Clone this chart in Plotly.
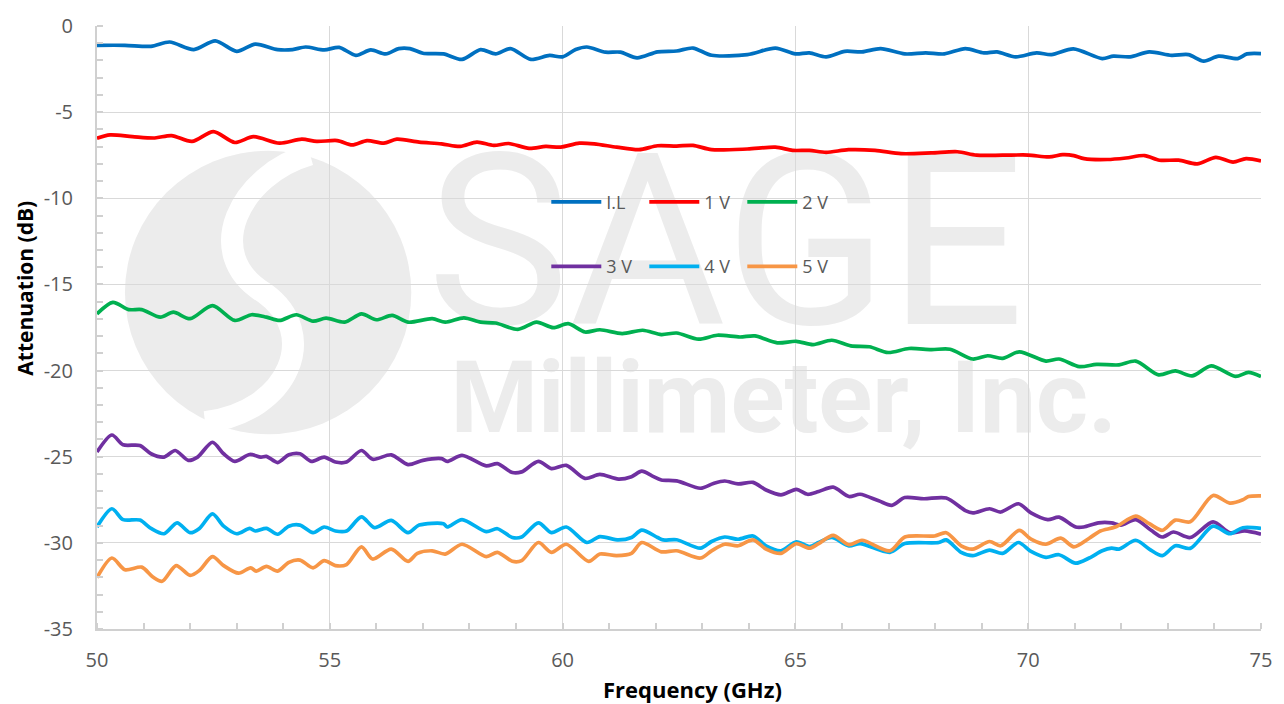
import plotly.graph_objects as go

# ---------------- data ----------------
il_f = [50, 50.6, 51.16, 51.56, 52.08, 52.54, 53.0, 53.4, 53.88, 54.2, 54.48, 54.88, 55.2, 55.56, 55.88,
        56.2, 56.48, 56.72, 57.0, 57.44, 57.84, 58.24, 58.56, 58.88, 59.32, 59.72, 60.0, 60.28, 60.52,
        60.92, 61.24, 61.6, 62.04, 62.45, 62.8, 63.2, 63.97, 64.57, 65.0, 65.3, 65.66, 66.06, 66.43,
        66.83, 67.35, 67.8, 68.2, 68.65, 69.05, 69.33, 69.73, 70.18, 70.5, 70.97, 71.59, 71.83, 72.19,
        72.6, 73.08, 73.44, 73.77, 74.09, 74.5, 74.7, 75]
il_v = [-1.12, -1.12, -1.18, -0.93, -1.37, -0.86, -1.47, -1.05, -1.37, -1.37, -1.22, -1.39, -1.24, -1.70, -1.39,
        -1.62, -1.31, -1.31, -1.58, -1.62, -1.94, -1.37, -1.62, -1.31, -1.94, -1.71, -1.79, -1.37, -1.22,
        -1.52, -1.52, -1.85, -1.50, -1.45, -1.28, -1.70, -1.66, -1.28, -1.62, -1.56, -1.79, -1.47, -1.50,
        -1.31, -1.62, -1.56, -1.62, -1.31, -1.56, -1.50, -1.79, -1.56, -1.66, -1.33, -1.89, -1.75, -1.79,
        -1.50, -1.70, -1.66, -2.04, -1.75, -1.89, -1.62, -1.60]

v1_f = [50, 50.28, 50.76, 51.24, 51.6, 52.04, 52.5, 52.96, 53.36, 53.92, 54.4, 54.72, 55.16, 55.48, 55.8,
        56.16, 56.44, 56.92, 57.4, 57.8, 58.16, 58.52, 58.84, 59.28, 59.64, 59.96, 60.36, 60.68, 61.16,
        61.64, 62.04, 62.45, 62.8, 63.2, 63.97, 64.57, 64.94, 65.3, 65.66, 66.14, 66.71, 67.27, 67.92,
        68.48, 68.89, 69.45, 70.0, 70.45, 70.74, 70.98, 71.2, 71.7, 72.1, 72.5, 72.82, 73.23, 73.63,
        74.03, 74.4, 74.68, 75]
v1_v = [-6.51, -6.32, -6.42, -6.50, -6.36, -6.70, -6.13, -6.76, -6.42, -6.80, -6.57, -6.70, -6.65, -6.90, -6.65,
        -6.80, -6.57, -6.74, -6.84, -6.99, -6.74, -6.93, -6.82, -7.10, -6.99, -7.03, -6.80, -6.84, -7.03,
        -7.18, -6.95, -6.97, -6.93, -7.18, -7.14, -7.03, -7.22, -7.22, -7.33, -7.18, -7.22, -7.41, -7.37,
        -7.30, -7.50, -7.50, -7.49, -7.60, -7.47, -7.52, -7.70, -7.75, -7.66, -7.52, -7.79, -7.79, -8.0,
        -7.62, -7.90, -7.70, -7.83]

v2_f = [50, 50.34, 50.68, 50.96, 51.36, 51.64, 52.0, 52.48, 52.96, 53.32, 53.64, 53.92, 54.28, 54.64, 54.92,
        55.32, 55.68, 56.0, 56.34, 56.68, 57.2, 57.48, 57.88, 58.24, 58.56, 59.04, 59.44, 59.8, 60.12,
        60.48, 60.8, 61.28, 61.72, 62.12, 62.45, 62.92, 63.32, 63.81, 64.13, 64.61, 65.02, 65.38, 65.78,
        66.19, 66.59, 66.99, 67.44, 67.92, 68.32, 68.81, 69.13, 69.45, 69.81, 70.38, 70.66, 71.1, 71.47,
        71.95, 72.31, 72.8, 73.16, 73.52, 73.93, 74.45, 74.73, 75]
v2_v = [-16.71, -16.04, -16.46, -16.46, -16.90, -16.61, -16.99, -16.23, -17.09, -16.76, -16.90, -17.09, -16.76, -17.13, -16.96,
        -17.19, -16.71, -17.05, -16.80, -17.19, -16.99, -17.19, -16.94, -17.19, -17.24, -17.61, -17.19, -17.51, -17.28,
        -17.76, -17.63, -17.85, -17.66, -17.91, -17.82, -18.18, -17.95, -18.05, -17.99, -18.39, -18.30, -18.49, -18.24,
        -18.57, -18.62, -18.95, -18.72, -18.78, -18.76, -19.33, -19.14, -19.29, -18.91, -19.45, -19.33, -19.77, -19.64,
        -19.67, -19.45, -20.25, -20.02, -20.31, -19.73, -20.34, -20.11, -20.34]

v3_f = [50, 50.32, 50.56, 50.92, 51.16, 51.44, 51.68, 51.96, 52.16, 52.48, 52.72, 52.96, 53.28, 53.52, 53.64,
        53.88, 54.12, 54.36, 54.6, 54.88, 55.12, 55.36, 55.68, 55.92, 56.32, 56.68, 57.0, 57.4, 57.52,
        57.84, 58.36, 58.6, 58.92, 59.12, 59.48, 59.76, 60.08, 60.48, 60.8, 61.2, 61.48, 61.7, 61.92,
        62.12, 62.45, 62.96, 63.24, 63.48, 63.77, 64.09, 64.37, 64.69, 65.02, 65.26, 65.5, 65.81, 66.15,
        66.39, 66.79, 67.07, 67.35, 67.76, 68.24, 68.65, 68.81, 69.17, 69.41, 69.79, 70.06, 70.42, 70.66,
        71.02, 71.19, 71.51, 71.79, 71.99, 72.31, 72.64, 72.88, 73.12, 73.48, 73.97, 74.33, 74.65, 75]
v3_v = [-24.73, -23.74, -24.31, -24.35, -24.83, -25.02, -24.64, -25.21, -25.02, -24.16, -24.83, -25.27, -24.87, -25.02, -24.98,
        -25.34, -24.89, -24.83, -25.27, -25.02, -25.31, -25.31, -24.64, -25.15, -24.89, -25.46, -25.21, -25.11, -25.27,
        -24.92, -25.53, -25.40, -25.92, -25.88, -25.27, -25.69, -25.50, -26.26, -26.03, -26.30, -26.16, -25.84, -26.11,
        -26.35, -26.40, -26.83, -26.55, -26.41, -26.58, -26.49, -26.93, -27.21, -26.89, -27.18, -27.02, -26.77, -27.31,
        -27.18, -27.56, -27.82, -27.37, -27.44, -27.40, -28.13, -28.26, -28.02, -28.21, -27.73, -28.26, -28.65, -28.51,
        -29.08, -29.08, -28.84, -28.84, -28.97, -28.65, -29.27, -29.66, -29.37, -29.69, -28.78, -29.41, -29.31, -29.50]

v4_f = [50, 50.32, 50.56, 50.92, 51.16, 51.44, 51.72, 52.0, 52.2, 52.48, 52.72, 53.0, 53.28, 53.4, 53.64,
        53.88, 54.12, 54.36, 54.64, 54.88, 55.12, 55.36, 55.68, 55.96, 56.32, 56.68, 56.92, 57.44, 57.52,
        57.84, 58.36, 58.6, 58.92, 59.12, 59.48, 59.76, 60.08, 60.52, 60.8, 61.2, 61.48, 61.7, 62.04,
        62.16, 62.45, 62.96, 63.2, 63.48, 63.77, 64.09, 64.37, 64.69, 65.02, 65.3, 65.5, 65.78, 66.15,
        66.39, 67.03, 67.35, 68.08, 68.24, 68.56, 68.81, 69.17, 69.45, 69.79, 70.06, 70.38, 70.66, 71.02,
        71.31, 71.59, 71.79, 71.95, 72.31, 72.6, 72.88, 73.16, 73.48, 73.97, 74.33, 74.61, 75]
v4_v = [-29.08, -28.02, -28.65, -28.68, -29.16, -29.47, -28.84, -29.41, -29.16, -28.32, -29.03, -29.47, -29.16, -29.31, -29.16,
        -29.50, -29.03, -28.97, -29.41, -29.08, -29.31, -29.31, -28.49, -29.12, -28.70, -29.41, -28.97, -28.89, -29.08,
        -28.65, -29.35, -29.18, -29.69, -29.66, -28.84, -29.41, -29.08, -29.98, -29.64, -29.83, -29.69, -29.26, -29.69,
        -29.83, -29.82, -30.31, -29.92, -29.66, -29.79, -29.60, -30.17, -30.46, -29.94, -30.21, -29.98, -29.69, -30.17,
        -30.04, -30.55, -30.04, -29.98, -29.83, -30.55, -30.74, -30.42, -30.61, -29.98, -30.50, -30.84, -30.69, -31.18,
        -30.88, -30.46, -30.31, -30.36, -29.85, -30.36, -30.74, -30.17, -30.32, -29.03, -29.47, -29.12, -29.16]

v5_f = [50, 50.32, 50.6, 50.96, 51.2, 51.4, 51.7, 52.0, 52.2, 52.48, 52.72, 53.04, 53.3, 53.42, 53.64,
        53.88, 54.12, 54.36, 54.64, 54.88, 55.12, 55.36, 55.68, 55.92, 56.32, 56.68, 56.88, 57.2, 57.48,
        57.84, 58.36, 58.6, 58.92, 59.12, 59.48, 59.76, 60.08, 60.56, 60.8, 61.16, 61.48, 61.7, 62.12,
        62.45, 62.96, 63.2, 63.48, 63.77, 64.09, 64.37, 64.69, 65.02, 65.3, 65.5, 65.81, 66.15, 66.43,
        67.03, 67.35, 67.99, 68.24, 68.56, 68.81, 69.17, 69.41, 69.81, 70.06, 70.38, 70.7, 70.98, 71.31,
        71.55, 71.87, 72.31, 72.6, 72.88, 73.16, 73.48, 73.97, 74.33, 74.61, 74.73, 75]
v5_v = [-32.02, -30.88, -31.56, -31.41, -31.98, -32.23, -31.32, -31.89, -31.60, -30.80, -31.32, -31.76, -31.45, -31.64, -31.37,
        -31.64, -31.13, -31.0, -31.45, -31.03, -31.32, -31.26, -30.23, -30.94, -30.36, -31.07, -30.61, -30.46, -30.65,
        -30.08, -30.80, -30.55, -31.07, -31.03, -29.98, -30.55, -30.08, -31.07, -30.65, -30.74, -30.61, -29.98, -30.52,
        -30.46, -30.88, -30.46, -30.08, -30.17, -29.83, -30.36, -30.61, -30.04, -30.31, -30.04, -29.56, -30.11, -29.85,
        -30.46, -29.66, -29.60, -29.41, -30.17, -30.36, -29.92, -30.17, -29.27, -29.79, -30.08, -29.73, -30.23, -29.73,
        -29.31, -29.08, -28.45, -28.89, -29.27, -28.68, -28.78, -27.25, -27.69, -27.50, -27.31, -27.27]

names = ["I.L", "1 V", "2 V", "3 V", "4 V", "5 V"]
colors = ["#0070C0", "#FF0000", "#00B050", "#7030A0", "#00B0F0", "#F79646"]
series = [(il_f, il_v), (v1_f, v1_v), (v2_f, v2_v), (v3_f, v3_v), (v4_f, v4_v), (v5_f, v5_v)]
legend_of = ["legend", "legend", "legend", "legend2", "legend2", "legend2"]

x_ticks = [50, 55, 60, 65, 70, 75]
x_labels = ["50", "55", "60", "65", "70", "75"]
y_ticks = [0, -5, -10, -15, -20, -25, -30, -35]
y_labels = ["0", "-5", "-10", "-15", "-20", "-25", "-30", "-35"]
x_title = "Frequency (GHz)"
y_title = "Attenuation (dB)"

FONT = "Open Sans"
GRID = "#d9d9d9"
TXT = "#595959"

fig = go.Figure()
for (fx, fy), nm, col, lg in zip(series, names, colors, legend_of):
    assert len(fx) == len(fy), nm
    fig.add_trace(go.Scatter(x=fx, y=fy, name=nm, mode="lines",
                             line=dict(color=col, width=3.7, shape="spline", smoothing=0.8),
                             legend=lg))

# watermark (logo + text), drawn beneath grid and traces
WM = "#ececec"
shapes = [
    dict(type="circle", xref="paper", yref="paper", x0=0.024, x1=0.270, y0=0.323, y1=0.793,
         fillcolor=WM, line=dict(width=0), layer="below"),
    dict(type="path", xref="paper", yref="paper",
         path="M 0.183 0.787 C 0.123 0.754, 0.0885 0.622, 0.144 0.557 C 0.192 0.491, 0.166 0.360, 0.0928 0.343",
         line=dict(color="white", width=22), layer="below"),
    dict(type="rect", xref="paper", yref="paper", x0=0.30, x1=0.78, y0=0.52, y1=0.82,
         line=dict(width=0), fillcolor="rgba(0,0,0,0)", layer="below",
         label=dict(text="SAGE", font=dict(family="Roboto", size=240, color=WM),
                    textposition="middle center")),
    dict(type="rect", xref="paper", yref="paper", x0=0.28, x1=0.90, y0=0.305, y1=0.485,
         line=dict(width=0), fillcolor="rgba(0,0,0,0)", layer="below",
         label=dict(text="Millimeter, Inc.", font=dict(family="Roboto", size=100, color=WM, weight="bold"),
                    textposition="middle center")),
]

axis_common = dict(showgrid=True, gridcolor=GRID, gridwidth=1.3, zeroline=False,
                   showline=True, linecolor="#d0d0d0", linewidth=2, ticks="",
                   tickfont=dict(family=FONT, size=20, color=TXT))

leg_common = dict(orientation="h", xanchor="left", yanchor="middle",
                  font=dict(family=FONT, size=18, color=TXT), bgcolor="rgba(0,0,0,0)",
                  entrywidth=33, entrywidthmode="pixels", traceorder="normal", itemwidth=50)

fig.update_layout(
    width=1284, height=704,
    margin=dict(l=97, r=23, t=20, b=75),
    paper_bgcolor="white", plot_bgcolor="white",
    font=dict(family=FONT, color=TXT),
    shapes=shapes,
    legend=dict(x=0.386, y=0.708, **leg_common),
    legend2=dict(x=0.386, y=0.601, **leg_common),
    xaxis=dict(range=[50, 75], tickvals=x_ticks, ticktext=x_labels, ticklabelstandoff=12,
               minor=dict(dtick=1, tick0=50, ticks="inside", ticklen=6, tickcolor="#d0d0d0",
                          tickwidth=1.5, showgrid=False),
               **axis_common),
    yaxis=dict(range=[-35, 0], tickvals=y_ticks, ticktext=y_labels, ticklabelstandoff=18,
               minor=dict(dtick=1, tick0=0, ticks="inside", ticklen=6, tickcolor="#d0d0d0",
                          tickwidth=1.5, showgrid=False),
               **axis_common),
    annotations=[
        dict(text="<b>" + x_title + "</b>", xref="paper", yref="paper", x=0.512, y=-0.100,
             xanchor="center", yanchor="middle", showarrow=False,
             font=dict(family=FONT, size=22, color="black")),
        dict(text="<b>" + y_title + "</b>", xref="paper", yref="paper", x=-0.0619, y=0.566,
             xanchor="center", yanchor="middle", showarrow=False, textangle=-90,
             font=dict(family=FONT, size=21, color="black")),
    ],
)

fig.write_html("out.html", config={"displayModeBar": False},
               post_script="document.body.style.margin='0';")
